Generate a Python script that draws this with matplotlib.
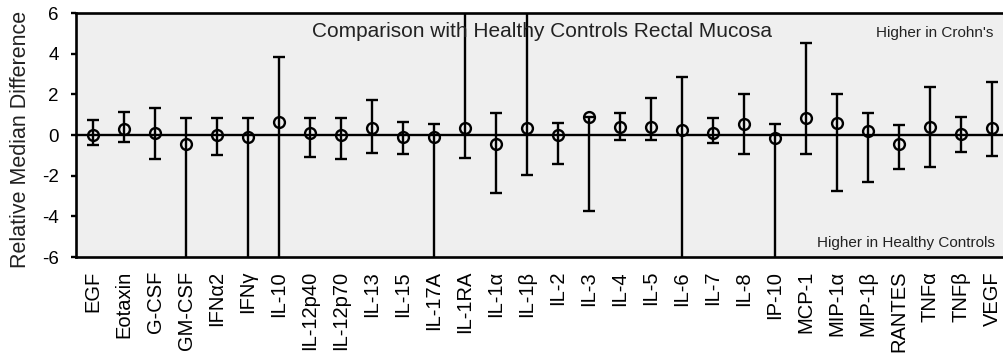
import matplotlib
matplotlib.use("Agg")
import matplotlib.pyplot as plt
import numpy as np

plt.rcParams['font.family'] = ['Liberation Sans', 'DejaVu Sans']
plt.rcParams['axes.unicode_minus'] = False

categories = ["EGF", "Eotaxin", "G-CSF", "GM-CSF", "IFNα2", "IFNγ", "IL-10",
              "IL-12p40", "IL-12p70", "IL-13", "IL-15", "IL-17A", "IL-1RA",
              "IL-1α", "IL-1β", "IL-2", "IL-3", "IL-4", "IL-5", "IL-6", "IL-7",
              "IL-8", "IP-10", "MCP-1", "MIP-1α", "MIP-1β", "RANTES", "TNFα",
              "TNFβ", "VEGF"]

median = [0.0, 0.28, 0.1, -0.44, 0.0, -0.08, 0.65,
          0.11, 0.0, 0.33, -0.08, -0.11, 0.33,
          -0.44, 0.33, 0.0, 0.87, 0.38, 0.38, 0.25, 0.08,
          0.54, -0.16, 0.85, 0.6, 0.2, -0.44, 0.41,
          0.05, 0.33]

upper = [0.74, 1.15, 1.34, 0.85, 0.85, 0.82, 3.85,
         0.85, 0.82, 1.72, 0.65, 0.54, 8.0,
         1.1, 8.0, 0.6, 0.88, 1.1, 1.84, 2.87, 0.82,
         2.02, 0.54, 4.51, 2.02, 1.1, 0.49, 2.35,
         0.87, 2.62]

lower = [-0.5, -0.33, -1.18, -8.0, -0.98, -8.0, -8.0,
         -1.07, -1.18, -0.87, -0.93, -8.0, -1.12,
         -2.84, -1.97, -1.43, -3.74, -0.25, -0.25, -8.0, -0.38,
         -0.93, -8.0, -0.93, -2.74, -2.3, -1.67, -1.59,
         -0.82, -1.03]

yticks = [-6, -4, -2, 0, 2, 4, 6]

title = "Comparison with Healthy Controls Rectal Mucosa"
note_top = "Higher in Crohn's"
note_bottom = "Higher in Healthy Controls"
ylabel = "Relative Median Difference"

W, H = 1004, 363
fig = plt.figure(figsize=(W / 100, H / 100), dpi=100)
ax = fig.add_axes([76 / W, (H - 257) / H, 933 / W, 244 / H])
ax.set_facecolor("#efefef")

x = np.arange(len(categories))
med = np.array(median)
err = np.vstack([med - np.array(lower), np.array(upper) - med])

ax.axhline(0, color="black", lw=1.7, zorder=2)
ax.errorbar(x, med, yerr=err, fmt="o", mfc="none", mec="black", mew=1.7,
            ms=7.8, ecolor="black", elinewidth=1.7, capsize=4, capthick=1.7,
            color="black", zorder=3)

ax.set_xlim(-0.55, len(categories) - 0.45)
ax.set_ylim(-6, 6)
ax.set_yticks(yticks)
ax.set_yticklabels([str(t) for t in yticks])
ax.set_xticks(x)
ax.set_xticklabels(categories, rotation=90, fontsize=14.5)
ax.tick_params(axis="x", length=0, pad=10)
ax.tick_params(axis="y", length=3.5, width=1.7, pad=9, labelsize=13.5)

for s in ["left", "bottom", "top"]:
    ax.spines[s].set_linewidth(1.9)
ax.spines["right"].set_visible(False)

ax.text(0.5, 0.926, title, transform=ax.transAxes, ha="center", va="center",
        fontsize=15, color="#222222")
ax.text((993 - 76) / 933, 0.919, note_top, transform=ax.transAxes,
        ha="right", va="center", fontsize=11, color="#222222")
ax.text((995 - 76) / 933, 0.056, note_bottom, transform=ax.transAxes,
        ha="right", va="center", fontsize=11, color="#222222")

fig.text(21 / W, 1 - 139 / H, ylabel, rotation=90, ha="center", va="center",
         fontsize=15.5, color="#222222")

fig.savefig("out.png", dpi=100)
